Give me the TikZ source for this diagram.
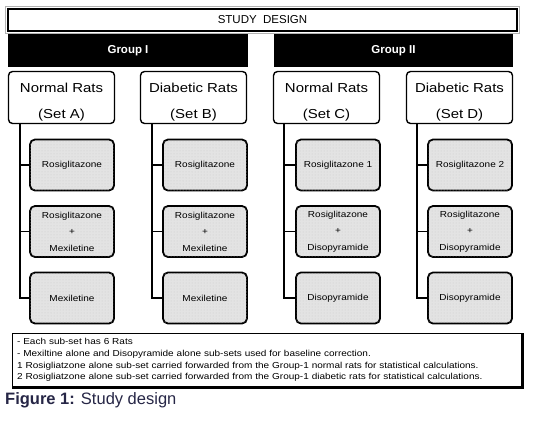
\documentclass[tikz,border=0pt]{standalone}
\usepackage{fontspec}
\setmainfont{Liberation Sans}
\newfontfamily\widesf[FakeStretch=1.15]{Liberation Sans}
\usepackage{tikz}
\usetikzlibrary{patterns}
\definecolor{capblue}{RGB}{38,38,70}

\begin{document}
\begin{tikzpicture}[x=1pt, y=-1pt,
    setbox/.style={draw=black, line width=1.4pt, rounded corners=4pt, fill=white,
      minimum width=106pt, minimum height=52pt, align=center, inner sep=0pt,
      font=\widesf\fontsize{13}{26}\selectfont},
    drugbox/.style={draw=black, line width=1.8pt, rounded corners=5pt, fill=gray!22,
      postaction={pattern=dots, pattern color=gray!40},
      minimum width=84pt, minimum height=51pt, align=center, inner sep=0pt,
      font=\widesf\fontsize{8.7}{16.5}\selectfont},
    groupbar/.style={fill=black, text=white, minimum height=33pt, inner sep=0pt,
      font=\bfseries\fontsize{11.5}{14}\selectfont},
    link/.style={draw=black, line width=1.4pt}]

   \useasboundingbox (0,0) rectangle (535,439);

   % title and groups
   \node[draw=black, line width=2pt, minimum width=509pt, minimum height=22pt, inner sep=0pt,
         font=\fontsize{11.5}{14}\selectfont] (title) at (262.5,20) {STUDY\ \ DESIGN};
   \draw[gray!60, line width=1pt] ([shift={(-1.5pt,1.5pt)}]title.north west) rectangle ([shift={(1.5pt,-1.5pt)}]title.south east);

   \node[groupbar, minimum width=240pt] (g1) at (128,50.5) {Group I};
   \node[groupbar, minimum width=239pt] (g2) at (393.5,50.5) {Group II};

   % rat sets
   \node[setbox] (setA) at (61.5,97.5) {\rule{0pt}{19.5pt}Normal Rats\\(Set A)};
   \node[setbox] (setB) at (193.5,97.5) {\rule{0pt}{19.5pt}Diabetic Rats\\(Set B)};
   \node[setbox] (setC) at (326.5,97.5) {\rule{0pt}{19.5pt}Normal Rats\\(Set C)};
   \node[setbox] (setD) at (459.5,97.5) {\rule{0pt}{19.5pt}Diabetic Rats\\(Set D)};

   % sub-sets
   \node[drugbox] (a1) at (72,165) {Rosiglitazone};
   \node[drugbox] (a2) at (72,231.5) {Rosiglitazone\\+\\Mexiletine};
   \node[drugbox] (a3) at (72,298) {Mexiletine};

   \node[drugbox] (b1) at (205,165) {Rosiglitazone};
   \node[drugbox] (b2) at (205,231.5) {Rosiglitazone\\+\\Mexiletine};
   \node[drugbox] (b3) at (205,298) {Mexiletine};

   \node[drugbox] (c1) at (338,165) {Rosiglitazone 1};
   \node[drugbox] (c2) at (338,231.5) {Rosiglitazone\\+\\Disopyramide};
   \node[drugbox] (c3) at (338,298) {Disopyramide};

   \node[drugbox] (d1) at (470,165) {Rosiglitazone 2};
   \node[drugbox] (d2) at (470,231.5) {Rosiglitazone\\+\\Disopyramide};
   \node[drugbox] (d3) at (470,298) {Disopyramide};

   % trunks
   \coordinate (ta) at (20,124);
   \coordinate (tb) at (152,124);
   \coordinate (tc) at (284,124);
   \coordinate (td) at (417,124);

   \draw[link] (ta) |- (a1.west) (ta) |- (a2.west) (ta) |- (a3.west);
   \draw[link] (tb) |- (b1.west) (tb) |- (b2.west) (tb) |- (b3.west);
   \draw[link] (tc) |- (c1.west) (tc) |- (c2.west) (tc) |- (c3.west);
   \draw[link] (td) |- (d1.west) (td) |- (d2.west) (td) |- (d3.west);

   % notes
   \node[draw=black, line width=1.2pt, anchor=north west, minimum width=509pt, minimum height=53pt,
         text width=500pt, align=left, inner sep=3pt, font=\widesf\fontsize{8.7}{11.7}\selectfont] (notes) at (12,333)
     {- Each sub-set has 6 Rats\\
      - Mexiltine alone and Disopyramide alone sub-sets used for baseline correction.\\
      1 Rosigliatzone alone sub-set carried forwarded from the Group-1 normal rats for statistical calculations.\\
      2 Rosigliatzone alone sub-set carried forwarded from the Group-1 diabetic rats for statistical calculations.};
   \draw[line width=3pt] (notes.north east) -- (notes.south east) -- (notes.south west);

   \node[anchor=base west, inner sep=0pt, text=capblue, font=\fontsize{16.5}{20}\selectfont] (caption) at (5,404.5)
     {\textbf{Figure 1:} Study design};

\end{tikzpicture}
\end{document}
